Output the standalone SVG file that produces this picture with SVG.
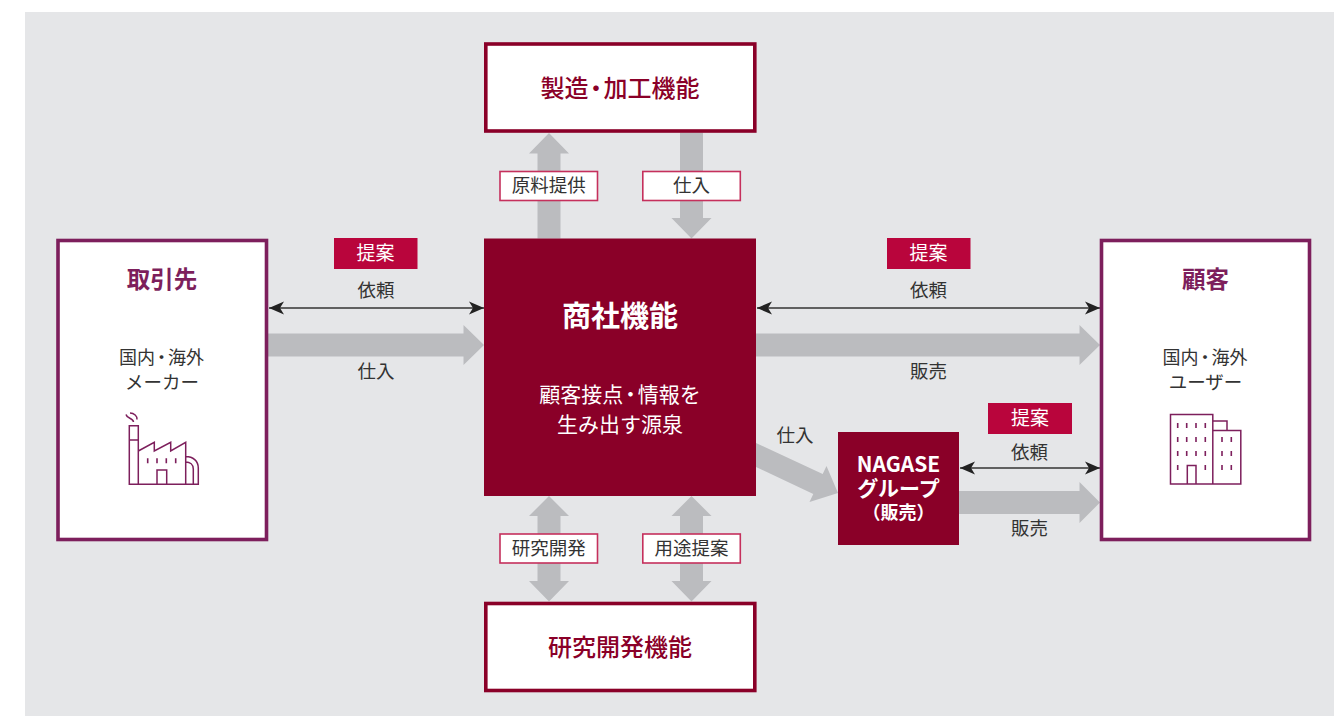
<svg xmlns="http://www.w3.org/2000/svg" width="1334" height="716" viewBox="0 0 1334 716">
<style>
text{font-family:"Noto Sans CJK JP","Noto Sans",sans-serif;text-anchor:middle}
.t{font-size:18.500px;fill:#333}
.t2{font-size:18px;fill:#333}
.w{fill:#fff}
.d{font-feature-settings:"palt"}
.tag{fill:#b9053c}
.fat{fill:#bbbcbf}
.thin{stroke:#333;stroke-width:1.6;fill:none;marker-start:url(#ah);marker-end:url(#ah)}
.lb{fill:#fff;stroke:#c5305c;stroke-width:1.6}
.fn{fill:#fff;stroke:#8a0028;stroke-width:3.6}
.pr{fill:#fff;stroke:#7d1f5c;stroke-width:3.6}
.h{font-weight:500;font-size:24px;fill:#8a0028}
.p{font-weight:700;font-size:23.500px;fill:#7d1f5c}
.ic{fill:none;stroke:#7d1f5c;stroke-width:1.5}
.win{fill:none;stroke:#7d1f5c;stroke-width:1.6;stroke-dasharray:5 9}
</style>
<defs>
<marker id="ah" markerUnits="userSpaceOnUse" markerWidth="16" markerHeight="14" refX="15" refY="7" orient="auto-start-reverse">
<path d="M0 0.5L15 7L0 13.5L4 7Z" fill="#222"/>
</marker>
</defs>
<rect x="25" y="12" width="1309" height="704" fill="#e5e6e8"/>
<g id="connectors">
<path class="fat" d="M268 333.500H463.500V325L484 345L463.500 365V356.500H268Z"/>
<path class="fat" d="M756 333.500H1079.500V325L1100 345L1079.500 365V356.500H756Z"/>
<path class="fat" d="M959 491H1079.500V482L1100 502.500L1079.500 523V514H959Z"/>
<path class="fat" d="M756 443L822.700 474L826.500 466L838 493L809.500 502L813.300 494L756 467Z"/>
<path class="fat" d="M537.500 238.500V153.500H529L549 133L569 153.500H560.500V238.500Z"/>
<path class="fat" d="M680 132.500V218H671.500L691.500 238.500L711.500 218H703V132.500Z"/>
<path class="fat" d="M549 496L569 516H560.500V581H569L549 601.500L529 581H537.500V516H529Z"/>
<path class="fat" d="M691.500 496L711.500 516H703V581H711.500L691.500 601.500L671.500 581H680V516H671.500Z"/>
<line class="thin" x1="269" y1="308" x2="484" y2="308"/>
<line class="thin" x1="757" y1="308" x2="1100" y2="308"/>
<line class="thin" x1="960" y1="468" x2="1100" y2="468"/>
</g>
<g id="node-torihikisaki">
<rect class="pr" x="58" y="240.500" width="208.500" height="299"/>
<text class="p" x="162" y="288">取引先</text>
<text class="t2" x="161.500" y="363.500">国内<tspan class="d" dx="2">・</tspan><tspan dx="2">海外</tspan></text>
<text class="t" x="162" y="388.500">メーカー</text>
<g id="icon-factory">
<path class="ic" d="M129.300 425.700H138.300V484.300H129.300ZM129.300 440H138.300M138.300 451L154.300 442.300V451L170.700 442.300V451L185.700 442.300V484.300M129.300 484.300H198.300V468C198.300 461 193 456.500 185.700 456.500M185.700 462C190 462 193.300 464.500 193.300 469V484.300M157 484.300V470H166.700V484.300"/>
<path class="ic" d="M126 414.500C127 419 133 417.500 133.500 422M130 413C134 413 137.500 416 137 419.500"/>
<path class="win" d="M147.700 458.300V463.300M157 458.300V463.300M166.300 458.300V463.300M175.700 458.300V463.300"/>
</g>
</g>
<g id="node-kokyaku">
<rect class="pr" x="1101.500" y="240.500" width="208" height="299"/>
<text class="p" x="1205.500" y="288">顧客</text>
<text class="t2" x="1205" y="363.500">国内<tspan class="d" dx="2">・</tspan><tspan dx="2">海外</tspan></text>
<text class="t" x="1205.500" y="388.500">ユーザー</text>
<g id="icon-building">
<path class="ic" d="M1170.500 414.500H1212.800V484H1170.500ZM1212.800 430.500H1240.800V484H1212.800M1212.800 421H1227V430.500M1187.300 484V465.500H1196V484"/>
<path class="win" d="M1177.700 423V428M1177.700 437V442M1177.700 451V456M1177.700 465V470M1186.700 423V428M1186.700 437V442M1186.700 451V456M1196 423V428M1196 437V442M1196 451V456M1205.300 423V428M1205.300 437V442M1205.300 451V456M1205.300 465V470M1222 437V442M1222 451V456M1222 465V470M1231.300 437V442M1231.300 451V456M1231.300 465V470"/>
</g>
</g>
<g id="node-seizo">
<rect class="fn" x="485.800" y="44" width="269" height="87"/>
<text class="h" x="620" y="96.500">製造<tspan class="d" dx="1.500">・</tspan><tspan dx="1.500">加工機能</tspan></text>
</g>
<g id="node-kenkyu">
<rect class="fn" x="485.800" y="603.500" width="269" height="87"/>
<text class="h" x="620" y="656">研究開発機能</text>
</g>
<g id="node-shosha">
<rect x="484" y="238.500" width="272" height="257.500" fill="#8a0028"/>
<text class="w" x="620" y="327" font-size="29" font-weight="700">商社機能</text>
<text class="w" x="620" y="402" font-size="21">顧客接点<tspan class="d" dx="2">・</tspan><tspan dx="2">情報を</tspan></text>
<text class="w" x="620" y="432" font-size="21">生み出す源泉</text>
</g>
<g id="node-nagase">
<rect x="838" y="432" width="121" height="113" fill="#8a0028"/>
<text class="w" x="898.500" y="472" font-size="21" font-weight="700">NAGASE</text>
<text class="w" x="898.500" y="495.500" font-size="21" font-weight="700">グループ</text>
<text class="w" x="898.500" y="519" font-size="18" font-weight="700">（販売）</text>
</g>
<g id="labels">
<rect class="tag" x="334" y="238" width="83.500" height="31"/>
<text class="w" x="375.500" y="260" font-size="19">提案</text>
<rect class="tag" x="887" y="238" width="83.500" height="31"/>
<text class="w" x="928.500" y="260" font-size="19">提案</text>
<rect class="tag" x="988" y="403" width="84" height="31"/>
<text class="w" x="1030" y="425" font-size="19">提案</text>
<text class="t" x="376" y="296.500">依頼</text>
<text class="t" x="376" y="377.500">仕入</text>
<text class="t" x="928.500" y="296.500">依頼</text>
<text class="t" x="928.500" y="377.500">販売</text>
<text class="t" x="795" y="442">仕入</text>
<text class="t" x="1029.500" y="459">依頼</text>
<text class="t" x="1029.500" y="535">販売</text>
<rect class="lb" x="500" y="171.500" width="97.500" height="29"/>
<text class="t" x="548.700" y="192">原料提供</text>
<rect class="lb" x="642.800" y="171.500" width="97.500" height="29"/>
<text class="t" x="691.500" y="192">仕入</text>
<rect class="lb" x="500" y="534" width="97.500" height="29"/>
<text class="t" x="548.700" y="555">研究開発</text>
<rect class="lb" x="642.800" y="534" width="97.500" height="29"/>
<text class="t" x="691.500" y="555">用途提案</text>
</g>
</svg>
